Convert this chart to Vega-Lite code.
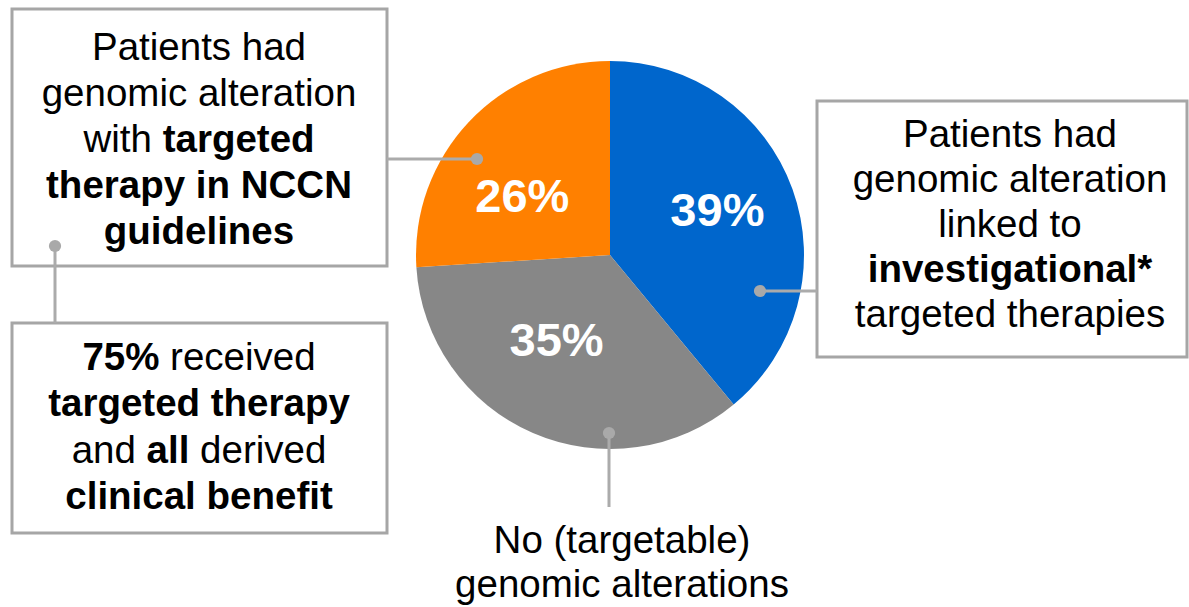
{
  "$schema": "https://vega.github.io/schema/vega-lite/v6.json",
  "width": 1189,
  "height": 607,
  "autosize": {"type": "fit", "contains": "padding"},
  "padding": 0,
  "background": "white",
  "config": {
    "view": {"stroke": null},
    "text": {"font": "Liberation Sans", "color": "#000000"}
  },
  "datasets": {
    "shares": [
      {"category": "Investigational targeted therapy", "value": 39, "order": 1},
      {"category": "No targetable alteration", "value": 35, "order": 2},
      {"category": "NCCN-guideline targeted therapy", "value": 26, "order": 3}
    ],
    "boxes": [
      {"note": "nccn", "x": 12, "x2": 387, "y": 9, "y2": 266},
      {"note": "benefit", "x": 12, "x2": 387, "y": 323, "y2": 533},
      {"note": "investigational", "x": 817, "x2": 1187, "y": 101, "y2": 357}
    ],
    "links": [
      {"note": "nccn", "x": 477, "y": 159, "x2": 387, "y2": 159},
      {"note": "benefit", "x": 55, "y": 246, "x2": 55, "y2": 323},
      {"note": "investigational", "x": 760, "y": 291, "x2": 817, "y2": 291},
      {"note": "none", "x": 609, "y": 433, "x2": 609, "y2": 507}
    ],
    "plainLines": [
      {"note": "nccn", "text": "Patients had", "x": 199, "y": 59.5},
      {"note": "nccn", "text": "genomic alteration", "x": 199, "y": 105.5},
      {"note": "investigational", "text": "Patients had", "x": 1010, "y": 147},
      {"note": "investigational", "text": "genomic alteration", "x": 1010, "y": 192},
      {"note": "investigational", "text": "linked to", "x": 1010, "y": 237},
      {"note": "investigational", "text": "targeted therapies", "x": 1010, "y": 327},
      {"note": "none", "text": "No (targetable)", "x": 622, "y": 553},
      {"note": "none", "text": "genomic alterations", "x": 622, "y": 597}
    ],
    "boldLines": [
      {"note": "nccn", "text": "therapy in NCCN", "x": 199, "y": 197.5},
      {"note": "nccn", "text": "guidelines", "x": 199, "y": 243.5},
      {"note": "benefit", "text": "targeted therapy", "x": 199, "y": 416},
      {"note": "benefit", "text": "clinical benefit", "x": 199, "y": 509},
      {"note": "investigational", "text": "investigational*", "x": 1010, "y": 282}
    ],
    "plainRuns": [
      {"note": "nccn", "text": "with", "x": 83.5, "y": 151.5},
      {"note": "benefit", "text": "received", "x": 170.1, "y": 370},
      {"note": "benefit", "text": "and", "x": 71.7, "y": 462.5},
      {"note": "benefit", "text": "derived", "x": 200.1, "y": 462.5}
    ],
    "boldRuns": [
      {"note": "nccn", "text": "targeted", "x": 162.7, "y": 151.5},
      {"note": "benefit", "text": "75%", "x": 82.4, "y": 370},
      {"note": "benefit", "text": "all", "x": 146.6, "y": 462.5}
    ]
  },
  "layer": [
    {
      "data": {"name": "shares"},
      "mark": {"type": "arc", "outerRadius": 194, "stroke": null},
      "encoding": {
        "theta": {"field": "value", "type": "quantitative", "stack": true, "scale": {"domain": [0, 100]}},
        "order": {"field": "order", "type": "quantitative"},
        "color": {
          "field": "category",
          "type": "nominal",
          "scale": {
            "domain": ["Investigational targeted therapy", "No targetable alteration", "NCCN-guideline targeted therapy"],
            "range": ["#0066CC", "#878787", "#FF8000"]
          },
          "legend": null
        },
        "x": {"datum": 610, "type": "quantitative", "scale": {"domain": [0, 1189], "nice": false, "zero": false}, "axis": null},
        "y": {"datum": 255, "type": "quantitative", "scale": {"domain": [0, 607], "nice": false, "zero": false, "reverse": true}, "axis": null}
      }
    },
    {
      "data": {"name": "shares"},
      "transform": [
        {"window": [{"op": "sum", "field": "value", "as": "cum"}], "sort": [{"field": "order"}], "frame": [null, 0]},
        {"calculate": "datum.cum - datum.value / 2", "as": "mid"},
        {"calculate": "datum.value + '%'", "as": "label"},
        {"filter": "datum.order == 1"}
      ],
      "mark": {"type": "text", "radius": 112, "dx": 2, "dy": -5, "fontSize": 47, "fontWeight": "bold", "fill": "white", "align": "center", "baseline": "middle"},
      "encoding": {
        "theta": {"field": "mid", "type": "quantitative", "stack": null, "scale": {"domain": [0, 100]}},
        "text": {"field": "label"},
        "x": {"datum": 610, "type": "quantitative", "scale": {"domain": [0, 1189], "nice": false, "zero": false}, "axis": null},
        "y": {"datum": 255, "type": "quantitative", "scale": {"domain": [0, 607], "nice": false, "zero": false, "reverse": true}, "axis": null}
      }
    },
    {
      "data": {"name": "shares"},
      "transform": [
        {"window": [{"op": "sum", "field": "value", "as": "cum"}], "sort": [{"field": "order"}], "frame": [null, 0]},
        {"calculate": "datum.cum - datum.value / 2", "as": "mid"},
        {"calculate": "datum.value + '%'", "as": "label"},
        {"filter": "datum.order == 2"}
      ],
      "mark": {"type": "text", "radius": 112, "dx": -9, "dy": -16, "fontSize": 47, "fontWeight": "bold", "fill": "white", "align": "center", "baseline": "middle"},
      "encoding": {
        "theta": {"field": "mid", "type": "quantitative", "stack": null, "scale": {"domain": [0, 100]}},
        "text": {"field": "label"},
        "x": {"datum": 610, "type": "quantitative", "scale": {"domain": [0, 1189], "nice": false, "zero": false}, "axis": null},
        "y": {"datum": 255, "type": "quantitative", "scale": {"domain": [0, 607], "nice": false, "zero": false, "reverse": true}, "axis": null}
      }
    },
    {
      "data": {"name": "shares"},
      "transform": [
        {"window": [{"op": "sum", "field": "value", "as": "cum"}], "sort": [{"field": "order"}], "frame": [null, 0]},
        {"calculate": "datum.cum - datum.value / 2", "as": "mid"},
        {"calculate": "datum.value + '%'", "as": "label"},
        {"filter": "datum.order == 3"}
      ],
      "mark": {"type": "text", "radius": 112, "dx": -6, "dy": 20, "fontSize": 47, "fontWeight": "bold", "fill": "white", "align": "center", "baseline": "middle"},
      "encoding": {
        "theta": {"field": "mid", "type": "quantitative", "stack": null, "scale": {"domain": [0, 100]}},
        "text": {"field": "label"},
        "x": {"datum": 610, "type": "quantitative", "scale": {"domain": [0, 1189], "nice": false, "zero": false}, "axis": null},
        "y": {"datum": 255, "type": "quantitative", "scale": {"domain": [0, 607], "nice": false, "zero": false, "reverse": true}, "axis": null}
      }
    },
    {
      "data": {"name": "boxes"},
      "mark": {"type": "rect", "fill": "white", "stroke": "#A6A6A6", "strokeWidth": 3},
      "encoding": {
        "x": {"field": "x", "type": "quantitative", "scale": {"domain": [0, 1189], "nice": false, "zero": false}, "axis": null},
        "x2": {"field": "x2"},
        "y": {"field": "y", "type": "quantitative", "scale": {"domain": [0, 607], "nice": false, "zero": false, "reverse": true}, "axis": null},
        "y2": {"field": "y2"}
      }
    },
    {
      "data": {"name": "links"},
      "mark": {"type": "rule", "stroke": "#ABABAB", "strokeWidth": 3},
      "encoding": {
        "x": {"field": "x", "type": "quantitative", "scale": {"domain": [0, 1189], "nice": false, "zero": false}, "axis": null},
        "x2": {"field": "x2"},
        "y": {"field": "y", "type": "quantitative", "scale": {"domain": [0, 607], "nice": false, "zero": false, "reverse": true}, "axis": null},
        "y2": {"field": "y2"}
      }
    },
    {
      "data": {"name": "links"},
      "mark": {"type": "circle", "fill": "#A9A9A9", "opacity": 1, "size": 150},
      "encoding": {
        "x": {"field": "x", "type": "quantitative", "scale": {"domain": [0, 1189], "nice": false, "zero": false}, "axis": null},
        "y": {"field": "y", "type": "quantitative", "scale": {"domain": [0, 607], "nice": false, "zero": false, "reverse": true}, "axis": null}
      }
    },
    {
      "data": {"name": "plainLines"},
      "mark": {"type": "text", "fontSize": 38.5, "align": "center", "baseline": "alphabetic"},
      "encoding": {
        "x": {"field": "x", "type": "quantitative", "scale": {"domain": [0, 1189], "nice": false, "zero": false}, "axis": null},
        "y": {"field": "y", "type": "quantitative", "scale": {"domain": [0, 607], "nice": false, "zero": false, "reverse": true}, "axis": null},
        "text": {"field": "text"}
      }
    },
    {
      "data": {"name": "boldLines"},
      "mark": {"type": "text", "fontSize": 38.5, "fontWeight": "bold", "align": "center", "baseline": "alphabetic"},
      "encoding": {
        "x": {"field": "x", "type": "quantitative", "scale": {"domain": [0, 1189], "nice": false, "zero": false}, "axis": null},
        "y": {"field": "y", "type": "quantitative", "scale": {"domain": [0, 607], "nice": false, "zero": false, "reverse": true}, "axis": null},
        "text": {"field": "text"}
      }
    },
    {
      "data": {"name": "plainRuns"},
      "mark": {"type": "text", "fontSize": 38.5, "align": "left", "baseline": "alphabetic"},
      "encoding": {
        "x": {"field": "x", "type": "quantitative", "scale": {"domain": [0, 1189], "nice": false, "zero": false}, "axis": null},
        "y": {"field": "y", "type": "quantitative", "scale": {"domain": [0, 607], "nice": false, "zero": false, "reverse": true}, "axis": null},
        "text": {"field": "text"}
      }
    },
    {
      "data": {"name": "boldRuns"},
      "mark": {"type": "text", "fontSize": 38.5, "fontWeight": "bold", "align": "left", "baseline": "alphabetic"},
      "encoding": {
        "x": {"field": "x", "type": "quantitative", "scale": {"domain": [0, 1189], "nice": false, "zero": false}, "axis": null},
        "y": {"field": "y", "type": "quantitative", "scale": {"domain": [0, 607], "nice": false, "zero": false, "reverse": true}, "axis": null},
        "text": {"field": "text"}
      }
    }
  ]
}
